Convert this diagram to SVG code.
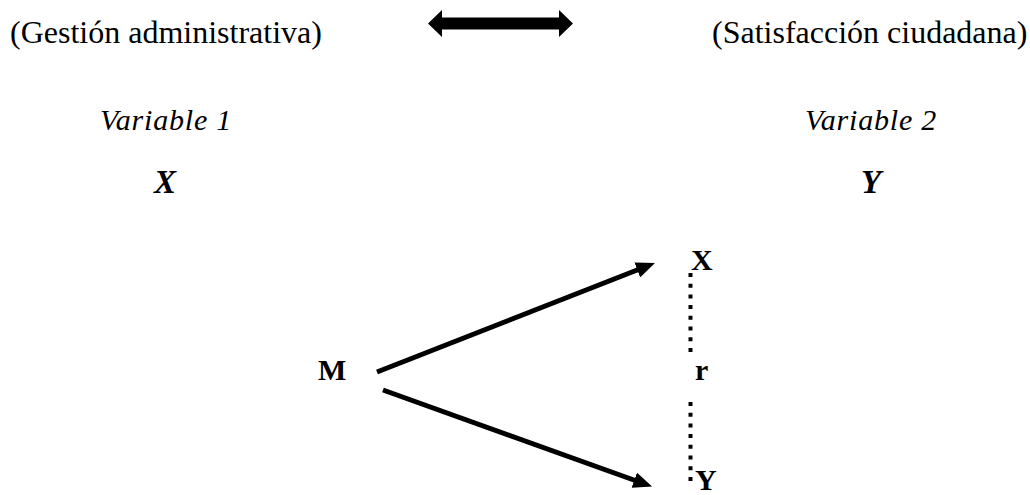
<svg xmlns="http://www.w3.org/2000/svg" width="1030" height="495" viewBox="0 0 1030 495">
<style>
.t{font-family:"Liberation Serif","Times New Roman",serif;fill:#000}
.hdr{font-size:32px}
.var{font-size:30px;font-style:italic;letter-spacing:0.8px}
.vb{font-size:33px;font-style:italic;font-weight:bold}
.n{font-size:30px;font-weight:bold}
.arr{stroke:#000;stroke-width:5;fill:none}
.dot{stroke:#000;stroke-width:4;stroke-dasharray:4 6.7;fill:none}
</style>
<defs>
<marker id="ah" markerUnits="userSpaceOnUse" markerWidth="20" markerHeight="16" refX="4" refY="8" orient="auto">
<path d="M0,0 L19,8 L0,16 z" fill="#000"/>
</marker>
</defs>
<rect width="1030" height="495" fill="#fff"/>
<g id="top-labels">
<text class="t hdr" x="10" y="43">(Gestión administrativa)</text>
<text class="t hdr" x="712" y="43">(Satisfacción ciudadana)</text>
</g>
<g id="double-arrow">
<path d="M428,23.5 L442,10 L442,17.5 L559,17.5 L559,10 L573,23.5 L559,37 L559,29.5 L442,29.5 L442,37 z" fill="#000"/>
</g>
<g id="var1">
<text class="t var" x="100" y="130">Variable 1</text>
<text class="t vb" x="154" y="193">X</text>
</g>
<g id="var2">
<text class="t var" x="805" y="130">Variable 2</text>
<text class="t vb" x="861" y="193">Y</text>
</g>
<g id="node-M"><text class="t n" x="318" y="380">M</text></g>
<g id="node-X"><text class="t n" x="691" y="270">X</text></g>
<g id="node-r"><text class="t n" x="695" y="380">r</text></g>
<g id="node-Y"><text class="t n" x="695" y="490">Y</text></g>
<g id="connectors">
<line class="arr" x1="377" y1="372" x2="641" y2="268.5" marker-end="url(#ah)"/>
<line class="arr" x1="383" y1="390" x2="638" y2="481.5" marker-end="url(#ah)"/>
<line class="dot" x1="690.5" y1="273" x2="690.5" y2="353"/>
<line class="dot" x1="690.5" y1="402" x2="690.5" y2="482"/>
</g>
</svg>
